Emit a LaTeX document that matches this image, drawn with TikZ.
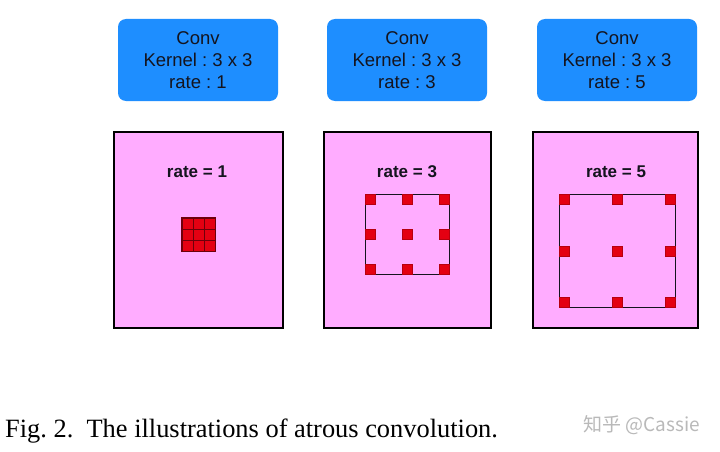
\documentclass[tikz,border=0pt]{standalone}
\usepackage{fontspec}
\setmainfont{Liberation Serif}
\setsansfont{Liberation Sans}
\newfontfamily\cjkfont{Noto Sans CJK SC}
\usepackage{tikz}
\usetikzlibrary{positioning}
\definecolor{convblue}{RGB}{30,142,255}
\definecolor{mappink}{RGB}{255,172,255}
\definecolor{kred}{RGB}{228,0,18}
\definecolor{kdark}{RGB}{110,0,10}
\definecolor{mydark}{RGB}{20,20,30}
\definecolor{markgray}{RGB}{185,185,185}
\tikzset{
  convbox/.style={rectangle, fill=convblue, rounded corners=8pt,
    minimum width=160pt, minimum height=82pt, align=center,
    font=\sffamily\fontsize{18.5}{22}\selectfont, text=mydark},
  panel/.style={rectangle, draw=black, fill=mappink, line width=2.5pt,
    minimum height=196pt},
  ratelabel/.style={font=\sffamily\bfseries\fontsize{17}{20}\selectfont, text=mydark},
  cell/.style={rectangle, draw=kdark, fill=kred, inner sep=0pt,
    minimum size=11pt, line width=0.6pt},
  tap/.style={rectangle, fill=kred, draw=kred!80!black, inner sep=0pt,
    minimum size=10pt, line width=0.3pt},
  field/.style={rectangle, draw=mydark, inner sep=0pt, line width=0.8pt}
}
\frenchspacing
\begin{document}
\begin{tikzpicture}[x=1pt, y=-1pt]
  \useasboundingbox (0,0) rectangle (720,452);
  \fill[white] (0,0) rectangle (720,452);

  % Conv blocks
  \node[convbox] (c1) at (198, 60) {Conv\\Kernel : 3 x 3\\rate : 1};
  \node[convbox] (c2) at (407, 60) {Conv\\Kernel : 3 x 3\\rate : 3};
  \node[convbox] (c3) at (617, 60) {Conv\\Kernel : 3 x 3\\rate : 5};

  % Feature maps
  \node[panel, minimum width=169pt] (p1) at (198.5, 230) {};
  \node[panel, minimum width=167pt] (p2) at (407.5, 230) {};
  \node[panel, minimum width=165pt] (p3) at (615.5, 230) {};
  \node[ratelabel] (r1) at (197, 172) {rate = 1};
  \node[ratelabel] (r2) at (407, 172) {rate = 3};
  \node[ratelabel] (r3) at (616, 172) {rate = 5};

  % rate 1: dense 3x3 kernel
  \node[cell] (g11) at (187.5, 223.5) {};
  \node[cell] (g12) at (198.5, 223.5) {};
  \node[cell] (g13) at (209.5, 223.5) {};
  \node[cell] (g21) at (187.5, 234.5) {};
  \node[cell] (g22) at (198.5, 234.5) {};
  \node[cell] (g23) at (209.5, 234.5) {};
  \node[cell] (g31) at (187.5, 245.5) {};
  \node[cell] (g32) at (198.5, 245.5) {};
  \node[cell] (g33) at (209.5, 245.5) {};
  \draw[line width=1pt, color=kdark] (g11.north west) rectangle (g33.south east);

  % rate 3: dilated kernel
  \node[field, minimum width=84pt, minimum height=80pt] (f2) at (407, 234) {};
  \node[tap] (a11) at (370, 199) {};
  \node[tap] (a12) at (407, 199) {};
  \node[tap] (a13) at (444, 199) {};
  \node[tap] (a21) at (370, 234) {};
  \node[tap] (a22) at (407, 234) {};
  \node[tap] (a23) at (444, 234) {};
  \node[tap] (a31) at (370, 269) {};
  \node[tap] (a32) at (407, 269) {};
  \node[tap] (a33) at (444, 269) {};

  % rate 5: dilated kernel
  \node[field, minimum width=116pt, minimum height=113pt] (f3) at (617, 250.5) {};
  \node[tap] (b11) at (564, 199) {};
  \node[tap] (b12) at (617, 199) {};
  \node[tap] (b13) at (670, 199) {};
  \node[tap] (b21) at (564, 251) {};
  \node[tap] (b22) at (617, 251) {};
  \node[tap] (b23) at (670, 251) {};
  \node[tap] (b31) at (564, 302) {};
  \node[tap] (b32) at (617, 302) {};
  \node[tap] (b33) at (670, 302) {};

  % Caption
  \node[anchor=base west, inner sep=0pt, font=\fontsize{26.4}{30}\selectfont] (cap) at (5, 437)
    {Fig. 2.\ \ The illustrations of atrous convolution.};
  \node[anchor=base east, inner sep=0pt, text=markgray, font=\cjkfont\fontsize{19}{22}\selectfont] (wm) at (700, 431)
    {知乎 @Cassie};
\end{tikzpicture}
\end{document}
